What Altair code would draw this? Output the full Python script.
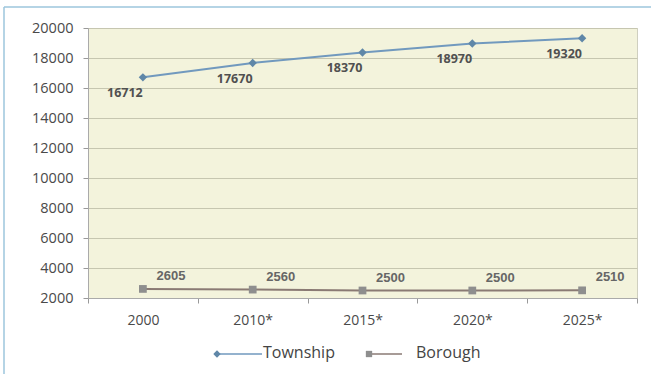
import altair as alt
import pandas as pd

years = ["2000", "2010*", "2015*", "2020*", "2025*"]
township = [16712, 17670, 18370, 18970, 19320]
borough = [2605, 2560, 2500, 2500, 2510]
series_names = ["Township", "Borough"]
y_ticks = [2000, 4000, 6000, 8000, 10000, 12000, 14000, 16000, 18000, 20000]

rows = []
for s, vals in zip(series_names, [township, borough]):
    for yr, v in zip(years, vals):
        rows.append({"year": yr, "value": v, "series": s})
df = pd.DataFrame(rows)

line_colors = ["#7199be", "#8a7a74"]
point_colors = ["#5f87a8", "#8e8e8e"]

x_enc = alt.X("year:N", sort=years, title=None,
              scale=alt.Scale(paddingInner=0, paddingOuter=0),
              axis=alt.Axis(labelAngle=0, labelFontSize=14, labelColor="#4a4a4a",
                            labelFont="Open Sans", labelPadding=10, tickBand="extent",
                            tickColor="#999999", tickSize=5, domainColor="#aaaaaa",
                            grid=False))
y_enc = alt.Y("value:Q", title=None,
              scale=alt.Scale(domain=[2000, 20000], nice=False),
              axis=alt.Axis(values=y_ticks, format="d", labelFontSize=14.5, labelColor="#4a4a4a",
                            labelFont="Open Sans", labelPadding=10, tickColor="#999999",
                            tickSize=5, domainColor="#aaaaaa", gridColor="#c6c6b0",
                            gridWidth=1))

base = alt.Chart(df)

lines = base.mark_line(strokeWidth=2).encode(
    x=x_enc, y=y_enc,
    detail="series:N",
    stroke=alt.Stroke("series:N", sort=series_names,
                      scale=alt.Scale(domain=series_names, range=line_colors), legend=None),
)

pts_t = base.transform_filter(alt.datum.series == "Township").mark_point(
    shape="diamond", filled=True, size=70, opacity=1, color=point_colors[0]
).encode(x=x_enc, y=y_enc)

pts_b = base.transform_filter(alt.datum.series == "Borough").mark_point(
    shape="square", filled=True, size=60, opacity=1, color=point_colors[1]
).encode(x=x_enc, y=y_enc)

lab_t = base.transform_filter(alt.datum.series == "Township").mark_text(
    dx=-18, dy=16, fontSize=12.5, fontWeight="bold", font="Open Sans", color="#505050"
).encode(x=x_enc, y=y_enc, text=alt.Text("value:Q", format="d"))

lab_b = base.transform_filter(alt.datum.series == "Borough").mark_text(
    dx=28, dy=-13, fontSize=13, fontWeight="bold", font="Liberation Sans", color="#666666"
).encode(x=x_enc, y=y_enc, text=alt.Text("value:Q", format="d"))

one = pd.DataFrame({"a": [0]})

frame_top = alt.Chart(one).mark_rule(color="#9cc6dc", strokeWidth=1.5).encode(
    x=alt.value(-84), x2=alt.value(563), y=alt.value(-21))
frame_left = alt.Chart(one).mark_rule(color="#9cc6dc", strokeWidth=1.5).encode(
    x=alt.value(-84), y=alt.value(-21), y2=alt.value(346))

# legend (drawn as decoration below the axis)
leg_t_line = alt.Chart(one).mark_rule(color=line_colors[0], strokeWidth=1.5).encode(
    x=alt.value(129), x2=alt.value(174), y=alt.value(326))
leg_t_sym = alt.Chart(one).mark_point(shape="diamond", filled=True, size=55,
                                      color=point_colors[0], opacity=1).encode(
    x=alt.value(129), y=alt.value(326))
leg_t_txt = alt.Chart(one).mark_text(align="left", baseline="middle", fontSize=16,
                                     font="Open Sans", color="#444444",
                                     text=series_names[0]).encode(
    x=alt.value(175), y=alt.value(325))
leg_b_line = alt.Chart(one).mark_rule(color=line_colors[1], strokeWidth=1.5).encode(
    x=alt.value(281), x2=alt.value(314), y=alt.value(326))
leg_b_sym = alt.Chart(one).mark_point(shape="square", filled=True, size=40,
                                      color=point_colors[1], opacity=1).encode(
    x=alt.value(281), y=alt.value(326))
leg_b_txt = alt.Chart(one).mark_text(align="left", baseline="middle", fontSize=16,
                                     font="Open Sans", color="#444444",
                                     text=series_names[1]).encode(
    x=alt.value(328), y=alt.value(325))

chart = alt.layer(frame_top, frame_left, lines, pts_t, pts_b, lab_t, lab_b,
                  leg_t_line, leg_t_sym, leg_t_txt, leg_b_line, leg_b_sym, leg_b_txt).properties(
    width=549, height=270,
    padding={"left": 88, "top": 28, "right": 14, "bottom": 76},
    autosize=alt.AutoSizeParams(type="none"),
    background="white",
).configure_view(
    fill="#f3f3dc", stroke="#cfcfbf", strokeWidth=1
)

chart.save("out.html", embed_options={"renderer": "svg", "actions": False})
